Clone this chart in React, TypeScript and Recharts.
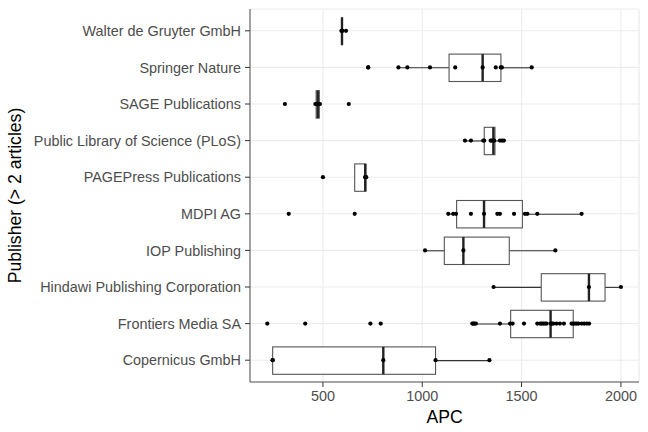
import { ComposedChart, Bar, Scatter, XAxis, YAxis, CartesianGrid } from "recharts";

// publishers, top to bottom
const publishers = [
  "Walter de Gruyter GmbH",
  "Springer Nature",
  "SAGE Publications",
  "Public Library of Science (PLoS)",
  "PAGEPress Publications",
  "MDPI AG",
  "IOP Publishing",
  "Hindawi Publishing Corporation",
  "Frontiers Media SA",
  "Copernicus GmbH",
];

// box stats
const whiskerLow = [593, 880, 462, 1215, 660, 1131, 1014, 1359, 1252, 247];
const q1 = [595, 1135, 466, 1312, 660, 1173, 1111, 1599, 1445, 247];
const median = [596, 1304, 474, 1358, 713, 1311, 1207, 1839, 1646, 804];
const q3 = [598, 1396, 482, 1366, 716, 1504, 1438, 1920, 1760, 1067];
const whiskerHigh = [599, 1551, 485, 1411, 718, 1802, 1670, 2000, 1840, 1338];

// single articles
const articleApc = [
  [593, 596, 598, 616],
  [728, 728, 880, 925, 1039, 1166, 1304, 1370, 1395, 1401, 1551],
  [309, 462, 468, 474, 480, 485, 630],
  [1215, 1245, 1307, 1312, 1344, 1350, 1358, 1362, 1391, 1402, 1411],
  [500, 713, 714, 718],
  [328, 660, 1131, 1156, 1170, 1245, 1311, 1378, 1391, 1462, 1517, 1529, 1579, 1802],
  [1014, 1207, 1670],
  [1359, 1839, 2000],
  [
    220, 411, 739, 791, 1252, 1257, 1262, 1270, 1391, 1442, 1455, 1512, 1579, 1593, 1601,
    1609, 1618, 1626, 1646, 1653, 1660, 1676, 1693, 1713, 1752, 1760, 1769, 1778, 1786,
    1802, 1815, 1828, 1840,
  ],
  [247, 247, 804, 1067, 1338],
];

const majorTicks = [500, 1000, 1500, 2000];
const minorTicks = [250, 750, 1250, 1750];
const apcDomain = [133, 2091];

const boxData = publishers.map((name, i) => ({
  name,
  lo: whiskerLow[i],
  q1: q1[i],
  med: median[i],
  q3: q3[i],
  hi: whiskerHigh[i],
}));

const pointData = publishers.flatMap((name, i) => articleApc[i].map((apc) => ({ name, apc })));

const FONT = "'Liberation Sans', Arial, sans-serif";

function BoxShape(props: any) {
  const { x, y, width, height, payload } = props;
  const { lo, hi } = payload;
  const px = (v: number) => x + ((v - lo) / (hi - lo)) * width;
  const cy = y + height / 2;
  const b1 = px(payload.q1);
  const b3 = px(payload.q3);
  const m = px(payload.med);
  return (
    <g>
      <line x1={x} x2={b1} y1={cy} y2={cy} stroke="#333" strokeWidth={1.1} />
      <line x1={b3} x2={x + width} y1={cy} y2={cy} stroke="#333" strokeWidth={1.1} />
      <rect x={b1} y={y} width={Math.max(b3 - b1, 0)} height={height} fill="#fff" stroke="#555" strokeWidth={1.1} />
      <line x1={m} x2={m} y1={y} y2={y + height} stroke="#222" strokeWidth={2.4} />
    </g>
  );
}

function Dot(props: any) {
  return <circle cx={props.cx} cy={props.cy} r={2.1} fill="#000" />;
}

function YTitle(props: any) {
  const { viewBox } = props;
  const cx = viewBox.x + 15;
  const cy = viewBox.y + viewBox.height / 2;
  return (
    <text
      x={cx}
      y={cy}
      transform={`rotate(-90 ${cx} ${cy})`}
      textAnchor="middle"
      dominantBaseline="central"
      fontSize={17.6}
      fill="#000"
      fontFamily={FONT}
    >
      Publisher (&gt; 2 articles)
    </text>
  );
}

export default function App() {
  return (
    <div style={{ position: "fixed", left: 0, top: 0, width: 648, height: 432, background: "#fff", fontFamily: FONT }}>
      <ComposedChart
        width={648}
        height={432}
        data={boxData}
        layout="vertical"
        margin={{ top: 9, right: 9, bottom: 0, left: 0 }}
      >
        <CartesianGrid xAxisId="minor" horizontal={false} stroke="#F4F4F4" strokeWidth={0.7} />
        <CartesianGrid stroke="#EBEBEB" strokeWidth={1.1} />
        <XAxis
          type="number"
          dataKey="apc"
          domain={apcDomain}
          ticks={majorTicks}
          allowDataOverflow
          height={50}
          tickSize={5}
          tickMargin={4}
          tick={{ fill: "#4D4D4D", fontSize: 14.4 }}
          tickLine={{ stroke: "#333" }}
          axisLine={{ stroke: "#555" }}
          label={{ value: "APC", position: "insideBottom", offset: 9, fontSize: 17.6, fill: "#000" }}
        />
        <XAxis
          xAxisId="minor"
          type="number"
          orientation="top"
          domain={apcDomain}
          ticks={minorTicks}
          allowDataOverflow
          height={0}
          tick={false}
          tickLine={false}
          axisLine={{ stroke: "#555" }}
        />
        <YAxis
          type="category"
          dataKey="name"
          allowDuplicatedCategory={false}
          width={250}
          interval={0}
          padding={{ top: 3.5, bottom: 3.5 }}
          tickSize={5}
          tickMargin={4}
          tick={{ fill: "#4D4D4D", fontSize: 14.4 }}
          tickLine={{ stroke: "#333" }}
          axisLine={{ stroke: "#555" }}
          label={<YTitle />}
        />
        <YAxis
          yAxisId="right"
          orientation="right"
          type="number"
          domain={[0, 1]}
          width={0}
          tick={false}
          tickLine={false}
          axisLine={{ stroke: "#555" }}
        />
        <Bar
          dataKey={(d: any) => [d.lo, d.hi]}
          barSize={27.4}
          shape={<BoxShape />}
          isAnimationActive={false}
        />
        <Scatter data={pointData} dataKey="apc" shape={<Dot />} isAnimationActive={false} />
      </ComposedChart>
    </div>
  );
}
